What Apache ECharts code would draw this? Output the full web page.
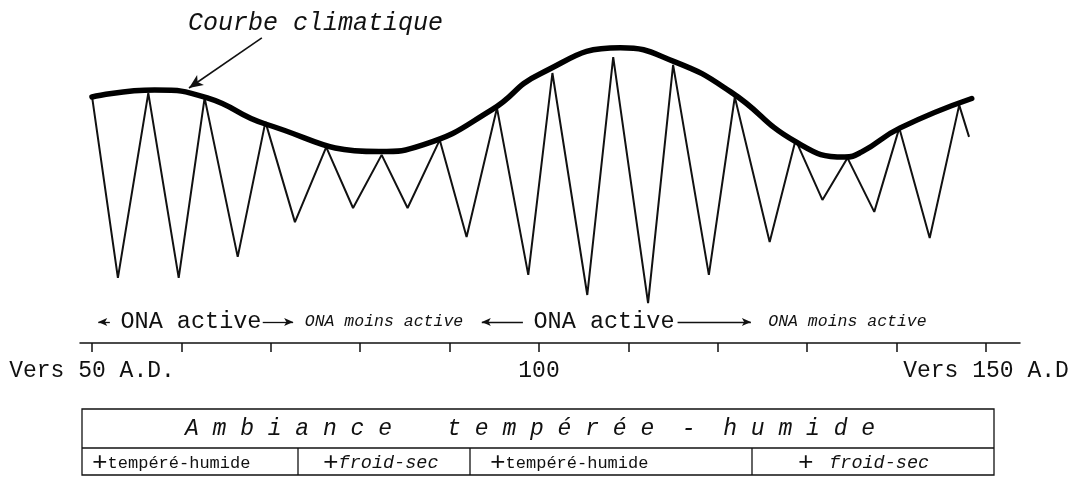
<!DOCTYPE html>
<html>
<head>
<meta charset="utf-8">
<script src="https://cdn.jsdelivr.net/npm/echarts@6/dist/echarts.min.js"></script>
<style>
html, body { margin: 0; padding: 0; background: #fff; }
#chart { width: 1072px; height: 477px; }
</style>
</head>
<body>
<div id="chart"></div>
<script>
// oscillations (années / indice climatique, unité arbitraire)
var oscYears = [50, 52.9, 56.3, 59.7, 62.6, 66.3, 69.4, 72.7, 76.2, 79.2, 82.4, 85.3, 88.9, 91.9, 95.3, 98.8,
  101.5, 105.4, 108.3, 112.2, 115, 119, 121.9, 125.8, 128.7, 131.7, 134.5, 137.5, 140.3, 143.7, 147, 148.1]
var oscValues = [82.3, 21.7, 83.3, 21.7, 81.7, 28.7, 73.7, 40.3, 65.3, 45, 62.7, 45, 67.7, 35.3, 78.3, 22.7,
  90, 16, 95.3, 13.3, 92.7, 22.7, 82, 33.7, 67.7, 47.7, 61.7, 43.7, 71.7, 35, 79.3, 68.7]

// courbe climatique (enveloppe)
var curveYears = [50, 57, 62.9, 69.4, 82.1, 87.1, 94.7, 100.1, 109.1, 115.2, 121.4, 128.7, 134.2, 136.1, 140.4, 148.4]
var curveValues = [82, 84.3, 81.7, 73, 63.8, 66.1, 77.7, 89.7, 98.4, 93.7, 83.8, 67.1, 62, 63.7, 71.7, 81.5]

// axe
var tickYears = [50, 60, 70, 80, 90, 100, 110, 120, 130, 140, 150]
var labelYears = [50, 100, 150]
var labelTexts = ['Vers 50 A.D.', '100', 'Vers 150 A.D']

// phases ONA
var phaseTexts = ['ONA active', 'ONA moins active', 'ONA active', 'ONA moins active']
var phaseYears = [61.07, 82.66, 107.27, 134.5]
var phaseLevel = 7
var arrowFrom = [52.0, 69.1, 98.2, 115.5]
var arrowTo = [50.7, 72.5, 93.6, 123.7]

// tableau
var tableTitle = 'A m b i a n c e    t e m p é r é e  -  h u m i d e'
var cellTexts = ['tempéré-humide', 'froid-sec', 'tempéré-humide', 'froid-sec']
var cellItalic = [false, true, false, true]

var MONO = "'Liberation Mono', 'DejaVu Sans Mono', monospace"

function pairs(xs, ys) {
  return xs.map(function (x, i) { return [x, ys[i]] })
}

const chart = echarts.init(document.getElementById('chart'))

const phaseArrows = arrowFrom.map(function (f, i) {
  return [
    { coord: [f, phaseLevel], symbol: 'none' },
    { coord: [arrowTo[i], phaseLevel], symbol: 'arrow', symbolSize: [6, 9] }
  ]
})

chart.setOption({
  animation: false,
  backgroundColor: '#fff',
  grid: { left: 80, right: 52, top: 13, bottom: 134, outerBoundsMode: 'none', containLabel: false },
  xAxis: {
    type: 'value',
    min: 48.66,
    max: 153.8,
    axisLine: { show: true, lineStyle: { color: '#111', width: 1.5 } },
    axisTick: { show: true, customValues: tickYears, length: 9, lineStyle: { color: '#111', width: 1.5 } },
    axisLabel: {
      customValues: labelYears,
      formatter: function (v) { return labelTexts[labelYears.indexOf(Math.round(v))] },
      fontFamily: MONO,
      fontSize: 23,
      color: '#111',
      margin: 16
    },
    splitLine: { show: false }
  },
  yAxis: { type: 'value', min: 0, max: 110, show: false },
  series: [
    {
      name: 'oscillations',
      type: 'line',
      data: pairs(oscYears, oscValues),
      showSymbol: false,
      lineStyle: { color: '#111', width: 2 },
      markLine: {
        silent: true,
        label: { show: false },
        lineStyle: { color: '#111', width: 1.3, type: 'solid' },
        data: phaseArrows
      }
    },
    {
      name: 'Courbe climatique',
      type: 'line',
      smooth: true,
      data: pairs(curveYears, curveValues),
      showSymbol: false,
      lineStyle: { color: '#000', width: 5.5, cap: 'round' },
      markLine: {
        silent: true,
        label: { show: false },
        lineStyle: { color: '#111', width: 1.6, type: 'solid' },
        data: [[
          { coord: [69.0, 101.7], symbol: 'none' },
          { coord: [60.85, 85], symbol: 'arrow', symbolSize: [9, 14] }
        ]]
      }
    }
  ]
})

// textes et tableau
const graphics = [
  {
    type: 'text', x: 188, y: 23,
    style: { text: 'Courbe climatique', font: 'italic 25px ' + MONO, fill: '#111', align: 'left', verticalAlign: 'middle' }
  }
]
phaseTexts.forEach(function (t, i) {
  const p = chart.convertToPixel({ gridIndex: 0 }, [phaseYears[i], phaseLevel])
  const big = i % 2 === 0
  graphics.push({
    type: 'text', x: p[0], y: p[1],
    style: {
      text: t,
      font: big ? '23.5px ' + MONO : 'italic 16.5px ' + MONO,
      fill: '#111', align: 'center', verticalAlign: 'middle'
    }
  })
})

const tLeft = 82, tRight = 994, tTop = 409, tMid = 448, tBottom = 475
const cellLines = [298, 470, 752]
const cellStarts = [92, 323, 490, 798]
graphics.push({
  type: 'rect',
  shape: { x: tLeft, y: tTop, width: tRight - tLeft, height: tBottom - tTop },
  style: { fill: 'none', stroke: '#111', lineWidth: 1.3 }
})
graphics.push({
  type: 'line',
  shape: { x1: tLeft, y1: tMid, x2: tRight, y2: tMid },
  style: { stroke: '#111', lineWidth: 1.3 }
})
cellLines.forEach(function (x) {
  graphics.push({
    type: 'line',
    shape: { x1: x, y1: tMid, x2: x, y2: tBottom },
    style: { stroke: '#111', lineWidth: 1.3 }
  })
})
graphics.push({
  type: 'text', x: 530, y: 429,
  style: { text: tableTitle, font: 'italic 23px ' + MONO, fill: '#111', align: 'center', verticalAlign: 'middle' }
})
cellTexts.forEach(function (t, i) {
  graphics.push({
    type: 'text', x: cellStarts[i], y: 463,
    style: {
      text: '{p|+' + (i === 3 ? ' ' : '') + '}{t|' + t + '}',
      align: 'left', verticalAlign: 'middle',
      rich: {
        p: { font: '26px ' + MONO, fill: '#111' },
        t: { font: (cellItalic[i] ? 'italic 18.5px ' : '17px ') + MONO, fill: '#111' }
      }
    }
  })
})

chart.setOption({ graphic: graphics })
</script>
</body>
</html>
